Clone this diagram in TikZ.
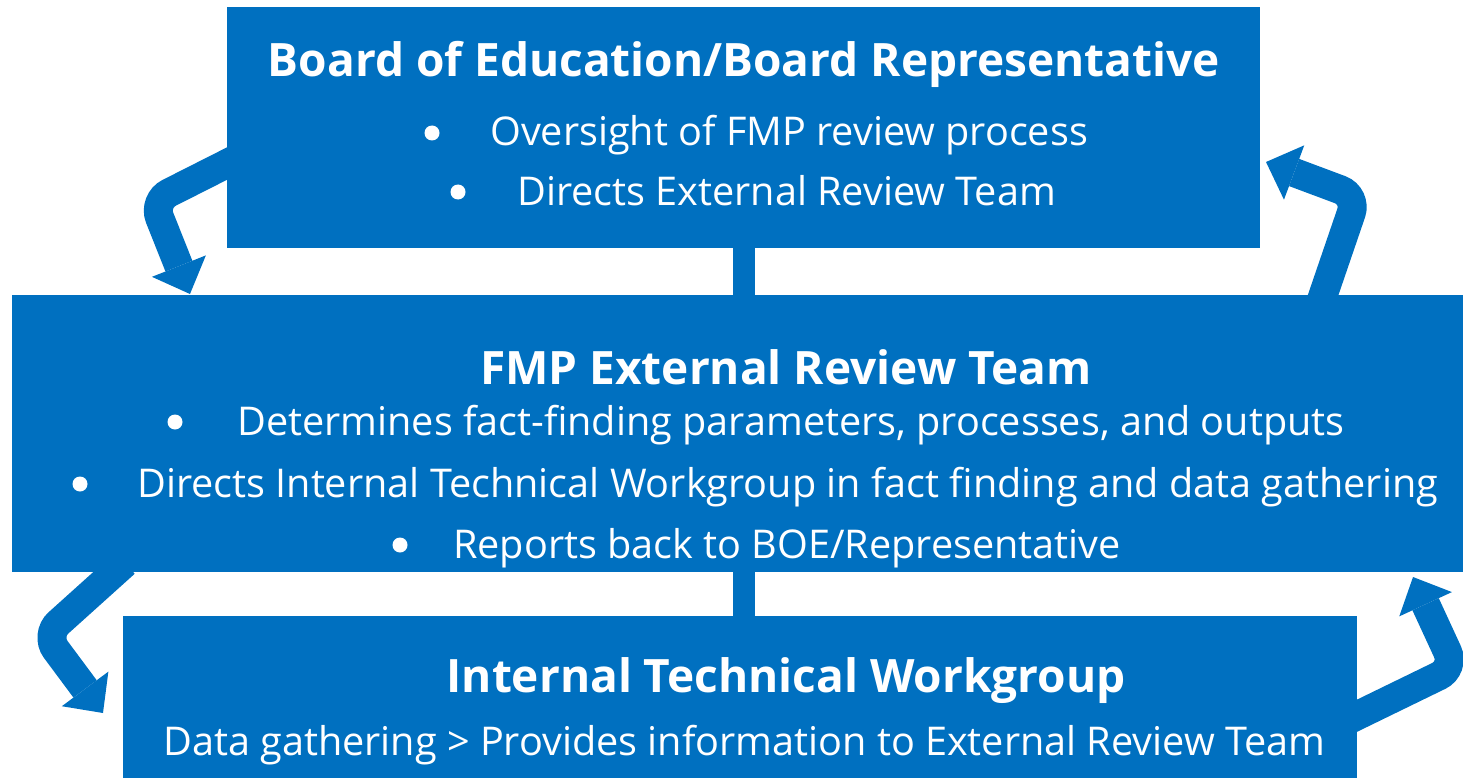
\documentclass[tikz,border=0pt]{standalone}
\usepackage{fontspec}
\setmainfont{Open Sans}
\usetikzlibrary{arrows.meta}
\definecolor{boxblue}{RGB}{0,112,192}
\begin{document}
\begin{tikzpicture}[x=1pt,y=-1pt,
  box/.style={fill=boxblue, draw=none, inner sep=0pt, anchor=north west},
  bar/.style={draw=boxblue, line width=22pt},
  flow/.style={draw=boxblue, line width=29pt, rounded corners=18pt,
    -{Triangle[width=58pt,length=30pt,line width=0pt]}},
  ttl/.style={text=white, font=\fontsize{46}{54}\selectfont\bfseries, inner sep=0pt, anchor=base},
  txt/.style={text=white, font=\fontsize{39.6}{46}\selectfont, inner sep=0pt, anchor=base west},
  dot/.style={circle, fill=white, minimum size=15pt, inner sep=0pt}]
\useasboundingbox (0,0) rectangle (1463,778);

% arrow end points
\coordinate (a1s) at (240,157);
\coordinate (a1b) at (153,201);
\coordinate (a1e) at (190,294);
\coordinate (a2s) at (1318,310);
\coordinate (a2b) at (1357,196);
\coordinate (a2e) at (1266,162);
\coordinate (a3s) at (125,563);
\coordinate (a3b) at (45,635);
\coordinate (a3e) at (103,713);
\coordinate (a4s) at (1340,724);
\coordinate (a4b) at (1455,668);
\coordinate (a4e) at (1413,577);

\draw[flow] (a1s) -- (a1b) -- (a1e);
\draw[flow] (a2s) -- (a2b) -- (a2e);
\draw[flow] (a3s) -- (a3b) -- (a3e);
\draw[flow] (a4s) -- (a4b) -- (a4e);

% boxes
\node[box, minimum width=1033pt, minimum height=241pt] (top) at (227,7) {};
\node[box, minimum width=1451pt, minimum height=277pt] (mid) at (12,295) {};
\node[box, minimum width=1234pt, minimum height=162pt] (bot) at (123,616) {};

\draw[bar] (top.south) -- (top.south |- mid.north);
\draw[bar] (top.south |- mid.south) -- (top.south |- bot.north);

% top box text
\node[ttl] (t1) at (744,77) {Board of Education/Board Representative};
\node[dot] (d1) at (432,133) {};
\node[txt] (l1) at (490,146) {Oversight of FMP review process};
\node[dot] (d2) at (458,192) {};
\node[txt] (l2) at (517,205) {Directs External Review Team};

% middle box text
\node[ttl] (t2) at (786,384) {FMP External Review Team};
\node[dot] (d3) at (175,422) {};
\node[txt] (l3) at (237,435) {Determines fact-finding parameters, processes, and outputs};
\node[dot] (d4) at (80,484) {};
\node[txt] (l4) at (137,497) {Directs Internal Technical Workgroup in fact finding and data gathering};
\node[dot] (d5) at (400,545) {};
\node[txt] (l5) at (453,558) {Reports back to BOE/Representative};

% bottom box text
\node[ttl] (t3) at (786,692) {Internal Technical Workgroup};
\node[txt] (l6) at (163,755) {Data gathering > Provides information to External Review Team};
\end{tikzpicture}
\end{document}
